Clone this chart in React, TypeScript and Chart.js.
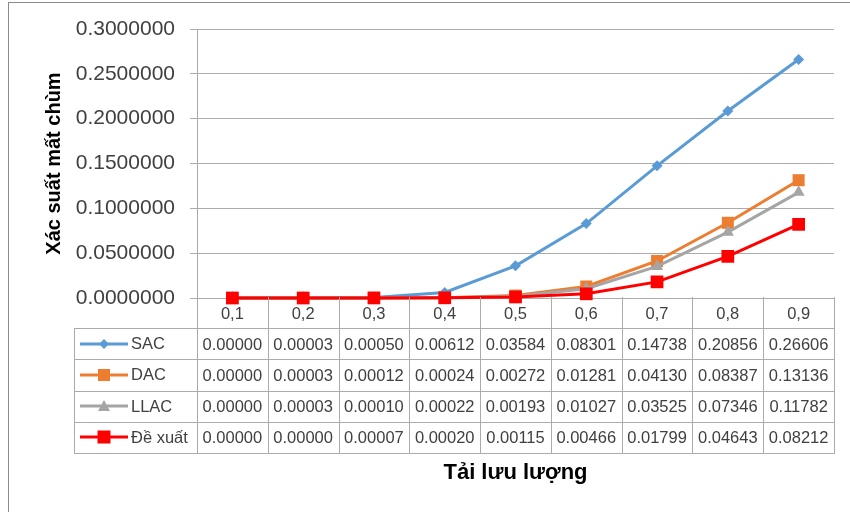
import React, { useEffect, useRef } from 'react';
import { Chart, registerables } from 'chart.js';

Chart.register(...registerables);

// ---- Data ----
const categories = ['0,1', '0,2', '0,3', '0,4', '0,5', '0,6', '0,7', '0,8', '0,9'];
const seriesNames = ['SAC', 'DAC', 'LLAC', 'Đề xuất'];
const sacValues = [0.0, 0.00003, 0.0005, 0.00612, 0.03584, 0.08301, 0.14738, 0.20856, 0.26606];
const dacValues = [0.0, 0.00003, 0.00012, 0.00024, 0.00272, 0.01281, 0.0413, 0.08387, 0.13136];
const llacValues = [0.0, 0.00003, 0.0001, 0.00022, 0.00193, 0.01027, 0.03525, 0.07346, 0.11782];
const deXuatValues = [0.0, 0.0, 0.00007, 0.0002, 0.00115, 0.00466, 0.01799, 0.04643, 0.08212];
const yMin = 0;
const yMax = 0.3;
const yStep = 0.05;
const yTitle = 'Xác suất mất chùm';
const xTitle = 'Tải lưu lượng';

// ---- Styles ----
const FONT = '"Liberation Sans", Arial, sans-serif';
const GRID = '#ABABAB';
const TEXT = '#404040';
const colors = ['#5B9BD5', '#ED7D31', '#A5A5A5', '#FF0000'];
const pointStyles = ['rectRot', 'rect', 'triangle', 'rect'];
const pointRadii = [5.5, 8.5, 7, 9];
const lineWidths = [3, 3, 3, 3];
const allValues = [sacValues, dacValues, llacValues, deXuatValues];

// layout geometry
const PLOT_L = 197;
const PLOT_R = 834;
const AXIS_Y = 297;
const TABLE_L = 74;
const HEAD_B = 328;
const ROW_H = 31.25;

function LegendMarker({ idx }: { idx: number }) {
  const c = colors[idx];
  const cx = 24;
  const cy = 8;
  let marker: React.ReactNode = null;
  if (idx === 0) {
    marker = <polygon points={`${cx},${cy - 5} ${cx + 5},${cy} ${cx},${cy + 5} ${cx - 5},${cy}`} fill={c} />;
  } else if (idx === 1) {
    marker = <rect x={cx - 6} y={cy - 6} width={12} height={12} fill={c} />;
  } else if (idx === 2) {
    marker = <polygon points={`${cx},${cy - 6} ${cx + 6},${cy + 5} ${cx - 6},${cy + 5}`} fill={c} />;
  } else {
    marker = <rect x={cx - 6.5} y={cy - 6.5} width={13} height={13} fill={c} />;
  }
  return (
    <svg width={48} height={16} style={{ display: 'block' }}>
      <line x1={0} y1={cy} x2={48} y2={cy} stroke={c} strokeWidth={lineWidths[idx]} />
      {marker}
    </svg>
  );
}

export default function App() {
  const ref = useRef<HTMLCanvasElement>(null);

  useEffect(() => {
    if (!ref.current) return;
    const chart = new Chart(ref.current, {
      type: 'line',
      data: {
        labels: categories,
        datasets: allValues.map((vals, i) => ({
          label: seriesNames[i],
          data: vals,
          borderColor: colors[i],
          backgroundColor: colors[i],
          borderWidth: lineWidths[i],
          pointStyle: pointStyles[i] as any,
          pointRadius: pointRadii[i],
          pointBorderWidth: 0,
          pointBackgroundColor: colors[i],
          tension: 0,
          clip: false as any,
          order: 3 - i,
        })),
      },
      options: {
        responsive: false,
        animation: false,
        devicePixelRatio: 1,
        layout: { padding: { left: 0, right: 850 - PLOT_R, top: 29, bottom: 0 } },
        plugins: { legend: { display: false }, tooltip: { enabled: false } },
        scales: {
          x: {
            offset: true,
            grid: { display: false },
            border: { display: true, color: GRID, width: 1 },
            ticks: { display: false },
            afterFit: (s: any) => {
              s.height = 512 - AXIS_Y - 1;
            },
          },
          y: {
            min: yMin,
            max: yMax,
            ticks: {
              stepSize: yStep,
              callback: (v: any) => Number(v).toFixed(7),
              font: { family: FONT, size: 21 },
              color: TEXT,
              padding: 15,
            },
            grid: { color: GRID, tickLength: 7, lineWidth: 1 },
            border: { color: GRID, width: 1 },
            title: {
              display: true,
              text: yTitle,
              font: { family: FONT, size: 20, weight: 'bold' },
              color: '#000000',
              padding: { top: 42, bottom: 0 },
            },
            afterFit: (s: any) => {
              s.width = PLOT_L;
            },
          },
        },
      },
    });
    return () => chart.destroy();
  }, []);

  const colW = (PLOT_R - PLOT_L) / categories.length;
  const tableBottom = HEAD_B + ROW_H * seriesNames.length;
  const lines: React.ReactNode[] = [];
  for (let i = 0; i <= seriesNames.length; i++) {
    lines.push(
      <div
        key={`h${i}`}
        style={{ position: 'absolute', left: TABLE_L, top: Math.round(HEAD_B + i * ROW_H), width: PLOT_R - TABLE_L + 1, height: 1, background: GRID }}
      />
    );
  }
  for (let k = 0; k <= categories.length; k++) {
    lines.push(
      <div
        key={`v${k}`}
        style={{ position: 'absolute', left: Math.round(PLOT_L + k * colW), top: AXIS_Y, width: 1, height: Math.round(tableBottom) - AXIS_Y + 1, background: GRID }}
      />
    );
  }
  lines.push(
    <div key="vl" style={{ position: 'absolute', left: TABLE_L, top: HEAD_B, width: 1, height: Math.round(tableBottom) - HEAD_B + 1, background: GRID }} />
  );

  const cellStyle = (left: number, top: number, width: number, height: number): React.CSSProperties => ({
    position: 'absolute',
    left,
    top,
    width,
    height,
    display: 'flex',
    alignItems: 'center',
    justifyContent: 'center',
    fontFamily: FONT,
    fontSize: 16.5,
    color: TEXT,
    whiteSpace: 'nowrap',
  });

  return (
    <div style={{ position: 'fixed', left: 0, top: 0, width: 850, height: 512, background: '#fff', overflow: 'hidden' }}>
      <canvas ref={ref} width={850} height={512} style={{ position: 'absolute', left: 0, top: 0, width: 850, height: 512 }} />
      {/* frame */}
      <div style={{ position: 'absolute', left: 8, top: 2, width: 842, height: 1, background: '#8C8C8C' }} />
      <div style={{ position: 'absolute', left: 8, top: 2, width: 1, height: 510, background: '#8C8C8C' }} />
      {lines}
      {categories.map((c, k) => (
        <div key={`c${k}`} style={cellStyle(PLOT_L + k * colW, AXIS_Y + 1, colW, HEAD_B - AXIS_Y - 1)}>
          {c}
        </div>
      ))}
      {allValues.map((vals, r) => (
        <React.Fragment key={`r${r}`}>
          <div
            style={{
              position: 'absolute',
              left: TABLE_L + 6,
              top: HEAD_B + r * ROW_H,
              height: ROW_H,
              display: 'flex',
              alignItems: 'center',
              fontFamily: FONT,
              fontSize: 16.5,
              color: TEXT,
              whiteSpace: 'nowrap',
            }}
          >
            <LegendMarker idx={r} />
            <span style={{ marginLeft: 3 }}>{seriesNames[r]}</span>
          </div>
          {vals.map((v, k) => (
            <div key={`d${r}-${k}`} style={cellStyle(PLOT_L + k * colW, HEAD_B + r * ROW_H + 1, colW, ROW_H - 1)}>
              {v.toFixed(5)}
            </div>
          ))}
        </React.Fragment>
      ))}
      <div
        style={{
          position: 'absolute',
          left: PLOT_L,
          top: 458,
          width: PLOT_R - PLOT_L,
          height: 28,
          lineHeight: '28px',
          textAlign: 'center',
          fontFamily: FONT,
          fontSize: 22,
          fontWeight: 'bold',
          color: '#000',
        }}
      >
        {xTitle}
      </div>
    </div>
  );
}
